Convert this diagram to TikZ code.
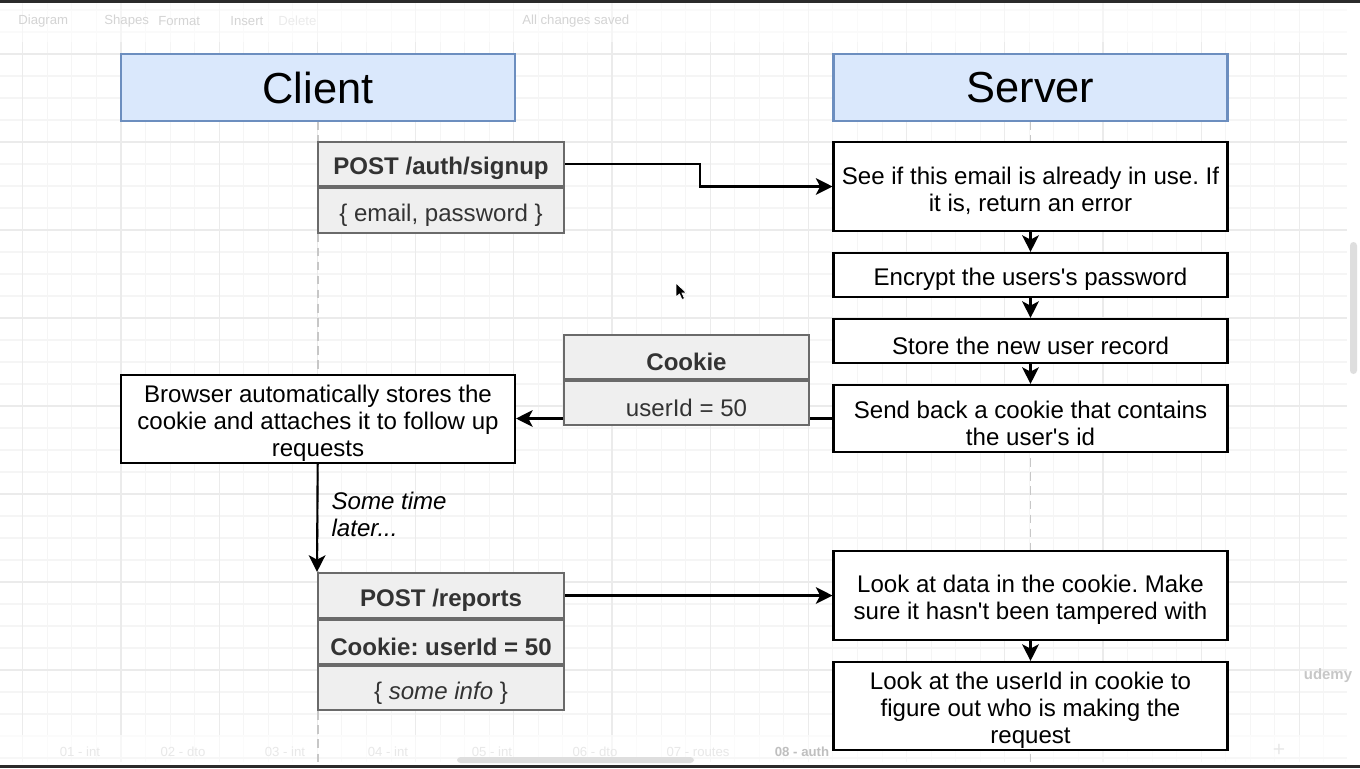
\documentclass[tikz,border=0pt]{standalone}
\usepackage{fontspec}
\setmainfont{Liberation Sans}
\usetikzlibrary{arrows.meta}
\usetikzlibrary{positioning}
\definecolor{headfill}{HTML}{DAE8FC}
\definecolor{headline}{HTML}{6C8EBF}
\definecolor{msgfill}{HTML}{EFEFEF}
\definecolor{msgline}{HTML}{6A6A6A}
\definecolor{msgtext}{HTML}{333333}
\definecolor{gridminor}{HTML}{F5F5F5}
\definecolor{gridmajor}{HTML}{EBEBEB}
\definecolor{uitext}{HTML}{D4D4D4}
\definecolor{uiband}{HTML}{2B2B2B}
\frenchspacing
\tikzset{
  head/.style = {draw=headline, fill=headfill, line width=1.2pt, minimum width=7.88cm,
                 minimum height=1.34cm, font=\fontsize{24.7}{28}\selectfont},
  tx/.style = {align=center, inner sep=0pt, yshift=-2.6pt, font=\fontsize{13.7}{15.4}\selectfont},
  stepbox/.style = {draw, line width=1.2pt, fill=white, inner sep=0pt, minimum width=7.88cm,
                    label={[tx]center:#1}},
  msg/.style = {draw=msgline, fill=msgfill, line width=1.2pt, inner sep=0pt,
                minimum width=4.92cm, minimum height=0.88cm, label={[tx, text=msgtext]center:#1}},
  msgbold/.style = {msg, label={[tx, text=msgtext, font=\fontsize{13.7}{15.4}\selectfont\bfseries]center:#1}},
  flow/.style = {draw, line width=1.2pt, -{Stealth[length=9.5pt,width=9.5pt,inset=2.5pt]}},
  lifeline/.style = {draw=black!22, line width=1pt, dash pattern=on 5pt off 3pt},
  uilabel/.style = {text=uitext, font=\fontsize{7.5}{9}\selectfont, inner sep=0pt}
}
\newcommand{\sq}{\textquotesingle}

\begin{document}
\begin{tikzpicture}[x=0.02cm, y=-0.02cm]
	\useasboundingbox (0,0) rectangle (1360,768);
	\fill[white] (0,0) rectangle (1360,768);
	% grid
	\foreach \i in {-4,...,49}
		\draw[gridminor, line width=0.6pt] ({121+24.55*\i},3) -- ({121+24.55*\i},762);
	\foreach \j in {-2,...,32}
		\draw[gridminor, line width=0.6pt] (0,{54+22*\j}) -- (1347,{54+22*\j});
	\foreach \i in {-1,...,12}
		\draw[gridmajor, line width=0.6pt] ({121+98.2*\i},3) -- ({121+98.2*\i},762);
	\foreach \j in {-1,...,8}
		\draw[gridmajor, line width=0.6pt] (0,{54+88*\j}) -- (1347,{54+88*\j});
	% editor bars
	\fill[white, opacity=0.55] (0,3) rectangle (1360,42);
	\fill[white, opacity=0.6] (0,735) rectangle (1360,762);
	\fill[uiband] (0,0) rectangle (1360,3);
	\fill[uiband] (0,765) rectangle (1360,768);
	\fill[black!13, rounded corners=2pt] (1350,242) rectangle (1357,374);
	\fill[black!13, rounded corners=2pt] (457,757) rectangle (694,763);
	\node[uilabel, anchor=west] (tbdiagram) at (18,21) {Diagram};
	\node[uilabel, anchor=west] (tbshapes) at (104,21) {Shapes};
	\node[uilabel, anchor=west] (tbformat) at (158,21) {Format};
	\node[uilabel, anchor=west] (tbinsert) at (230,21) {Insert};
	\node[uilabel, anchor=west, text=black!8] (tbdelete) at (278,21) {Delete};
	\node[uilabel, anchor=west] (tbsaved) at (522,21) {All changes saved};
	\foreach \t/\x in {01 - int/80, 02 - dto/183, 03 - int/285, 04 - int/388, 05 - int/492,
	                   06 - dto/595, 07 - routes/698}
		\node[uilabel, text=black!9] at (\x,752) {\t};
	\node[uilabel, text=black!25] (tabauth) at (802,752) {\textbf{08 - auth}};
	\node[uilabel, text=black!9, font=\fontsize{12}{12}\selectfont] (tabplus) at (1279,750) {+};
	\node[uilabel, text=black!22, font=\fontsize{8.5}{9}\selectfont] (udemy) at (1328,676) {\textbf{udemy}};
	% lifelines
	\draw[lifeline] (318,121) -- (318,762);
	\draw[lifeline] (1030.5,121) -- (1030.5,762);
	% headers
	\node[head] (client) at (318,87.5) {Client};
	\node[head] (server) at (1030.5,87.5) {Server};
	% server steps
	\node[stepbox={See if this email is already in use. If\\it is, return an error}, minimum height=1.78cm] (check) at (1030.5,186.5) {};
	\node[stepbox={Encrypt the users\sq s password}, minimum height=0.88cm] (encrypt) at (1030.5,275) {};
	\node[stepbox={Store the new user record}, minimum height=0.88cm] (store) at (1030.5,341) {};
	\node[stepbox={Send back a cookie that contains\\the user\sq s id}, minimum height=1.34cm] (sendback) at (1030.5,418.5) {};
	\node[stepbox={Look at data in the cookie. Make\\sure it hasn\sq t been tampered with}, minimum height=1.78cm] (verify) at (1030.5,595.5) {};
	\node[stepbox={Look at the userId in cookie to\\figure out who is making the\\request}, minimum height=1.76cm] (lookup) at (1030.5,706) {};
	% client side
	\node[stepbox={Browser automatically stores the\\cookie and attaches it to follow up\\requests}, minimum height=1.76cm] (browser) at (318,419) {};
	\node[msgbold={POST /auth/signup}] (signup) at (441,164) {};
	\node[msg={\{ email, password \}}, below=0pt of signup, minimum height=0.9cm] (signupbody) {};
	\node[msgbold={POST /reports}, minimum height=0.9cm] (reports) at (441,595.5) {};
	\node[msgbold={Cookie: userId = 50}, below=0pt of reports] (reportscookie) {};
	\node[msg={\{ \textit{some info} \}}, below=0pt of reportscookie] (reportsbody) {};
	% connectors
	\draw[flow] (signup.east) -- ++(135,0) |- (check.west);
	\draw[flow] (check) -- (encrypt);
	\draw[flow] (encrypt) -- (store);
	\draw[flow] (store) -- (sendback);
	\draw[flow] (sendback.west) -- (sendback.west -| browser.east);
	\draw[flow] (browser) -- node[right=7.5pt, pos=0.47, align=left, inner sep=0pt,
		font=\fontsize{13.7}{15.4}\selectfont\itshape] (later) {Some time\\later...} (reports.north west);
	\draw[flow] (reports.east) -- (reports.east -| verify.west);
	\draw[flow] (verify) -- (lookup);
	% cookie sits on top of the return line
	\node[msgbold={Cookie}, minimum width=4.9cm] (cookie) at (686.5,357) {};
	\node[msg={userId = 50}, minimum width=4.9cm, below=0pt of cookie] (cookiebody) {};
	% mouse pointer
	\filldraw[fill=black, draw=white, line width=0.4pt] (676,283) -- (676,297) -- (679.5,294) -- (682,299.5)
		-- (684.5,298.5) -- (682,293) -- (686.5,293) -- cycle;
\end{tikzpicture}
\end{document}
